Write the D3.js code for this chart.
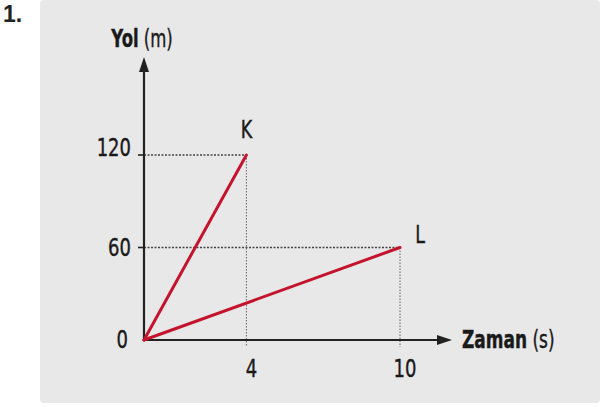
<!DOCTYPE html>
<html><head><meta charset="utf-8">
<script src="https://cdn.jsdelivr.net/npm/d3@7"></script>
<style>
html,body{margin:0;padding:0;background:#fff;}
text{font-family:"DejaVu Sans",sans-serif;fill:#1a1a1a;stroke:#1a1a1a;stroke-width:0.45;}
</style></head>
<body><svg id="c" width="604" height="407"></svg>
<script>
const seriesNames = ["K", "L"];
const timeK = [0, 4];
const distK = [0, 120];
const timeL = [0, 10];
const distL = [0, 60];
const xTicks = [4, 10];
const yTicks = [0, 60, 120];

const svg = d3.select("#c");
svg.append("rect").attr("x", 40).attr("y", 0).attr("width", 560).attr("height", 403)
  .attr("rx", 4).attr("fill", "#e8e8e8");

svg.append("text").attr("x", 3).attr("y", 22)
  .style("font-family", "'Liberation Sans', Arial, sans-serif").style("fill", "#222").style("stroke", "none")
  .attr("font-weight", "bold").attr("font-size", 23).text("1.");

// condensed label helper
function label(parent, px, py, anchor, size, sx, parts) {
  const t = parent.append("g").attr("transform", `translate(${px},${py}) scale(${sx},1)`)
    .append("text").attr("text-anchor", anchor).attr("font-size", size);
  parts.forEach(([txt, w]) => t.append("tspan").attr("font-weight", w).text(txt));
  return t;
}

const x = d3.scaleLinear().domain([0, 10]).range([144, 400]);
const y = d3.scaleLinear().domain([0, 120]).range([340, 155]);

const g = svg.append("g");

const guides = [[timeK[1], distK[1]], [timeL[1], distL[1]]];
guides.forEach(([t, d]) => {
  g.append("line").attr("x1", x(0)).attr("x2", x(t)).attr("y1", y(d)).attr("y2", y(d))
    .attr("stroke", "#444").attr("stroke-width", 1.3).attr("stroke-dasharray", "2,1.5");
  g.append("line").attr("x1", x(t)).attr("x2", x(t)).attr("y1", y(d)).attr("y2", y(0) + 7)
    .attr("stroke", "#555").attr("stroke-width", 0.9).attr("stroke-dasharray", "1.5,1.5");
});

g.append("line").attr("x1", x(0)).attr("x2", x(0)).attr("y1", y(0)).attr("y2", 70)
  .attr("stroke", "#222").attr("stroke-width", 2.2);
g.append("path").attr("d", `M${x(0)},57 L${x(0)-5},72 L${x(0)+5},72 Z`).attr("fill", "#222");
g.append("line").attr("x1", x(0)).attr("x2", 440).attr("y1", y(0)).attr("y2", y(0))
  .attr("stroke", "#222").attr("stroke-width", 2.2);
g.append("path").attr("d", `M452,${y(0)} L437,${y(0)-5} L437,${y(0)+5} Z`).attr("fill", "#222");

const topTick = d3.max(yTicks);
yTicks.forEach(v => {
  if (v > 0) g.append("line").attr("x1", x(0) - 6).attr("x2", x(0)).attr("y1", y(v)).attr("y2", y(v))
    .attr("stroke", "#222").attr("stroke-width", 1.6);
  label(g, v > 0 ? 131 : 128, y(v) + (v === topTick ? 1 : 8), "end", 25, 0.72, [[String(v), "normal"]]);
});
xTicks.forEach(v => {
  label(g, x(v) + 5, 377, "middle", 25, 0.72, [[String(v), "normal"]]);
});

const line = d3.line().x(d => x(d[0])).y(d => y(d[1]));
const series = [d3.zip(timeK, distK), d3.zip(timeL, distL)];
series.forEach(s => {
  g.append("path").attr("d", line(s)).attr("fill", "none")
    .attr("stroke", "#c4132c").attr("stroke-width", 3).attr("stroke-linecap", "round");
});

label(g, x(timeK[1]), y(distK[1]) - 17, "middle", 25, 0.7, [[seriesNames[0], "normal"]]);
label(g, x(timeL[1]) + 20, y(distL[1]) - 5, "middle", 25, 0.7, [[seriesNames[1], "normal"]]);

label(g, 142, 47, "middle", 25, 0.66, [["Yol", "bold"], [" (m)", "normal"]]);
label(g, 462, y(0) + 8, "start", 25, 0.68, [["Zaman", "bold"], [" (s)", "normal"]]);
</script></body></html>
